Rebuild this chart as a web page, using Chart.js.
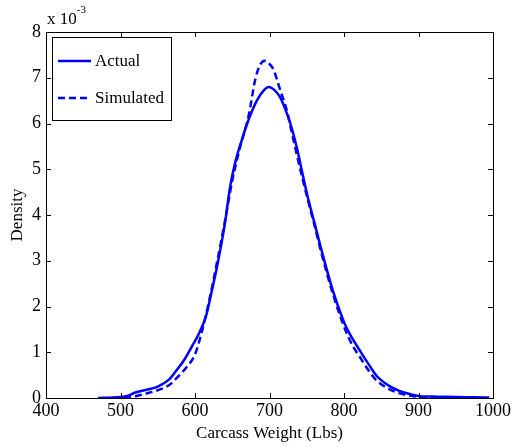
<!DOCTYPE html>
<html>
<head>
<meta charset="utf-8">
<script src="https://cdn.jsdelivr.net/npm/chart.js@4.4.0/dist/chart.umd.min.js"></script>
<style>
  html, body { margin: 0; padding: 0; background: #fff; }
  #wrap { width: 514px; height: 448px; }
</style>
</head>
<body>
<div id="wrap"><canvas id="densityChart" width="514" height="448"></canvas></div>
<script>
// carcass weight (lbs) and density (x 10^-3)
const actualX = [470, 490, 500, 510, 520, 535, 550, 565, 575, 585, 597, 605, 615, 622, 630, 640, 647, 654, 663, 669, 676, 683, 692, 699, 706, 714, 721, 728, 737, 745, 752, 760, 770, 785, 801, 812, 822, 833, 844, 860, 875, 890, 902, 925, 950, 975, 995];
const actualY = [0, 0.01, 0.02, 0.05, 0.12, 0.18, 0.25, 0.4, 0.6, 0.82, 1.16, 1.4, 1.8, 2.3, 2.9, 3.8, 4.6, 5.15, 5.65, 5.95, 6.25, 6.5, 6.72, 6.8, 6.74, 6.58, 6.32, 6.0, 5.45, 4.85, 4.35, 3.85, 3.22, 2.35, 1.62, 1.28, 1.02, 0.74, 0.48, 0.27, 0.15, 0.08, 0.04, 0.03, 0.02, 0.015, 0.01];

const simX = [490, 505, 520, 535, 550, 565, 575, 590, 600, 610, 620, 630, 640, 650, 660, 672, 681, 687, 694, 700, 705, 714, 723, 732, 745, 752, 760, 770, 785, 801, 812, 822, 833, 844, 860, 875, 890, 905, 930, 960];
const simY = [0, 0.01, 0.04, 0.1, 0.17, 0.28, 0.43, 0.7, 0.95, 1.5, 2.2, 3.0, 3.85, 4.75, 5.45, 6.17, 6.97, 7.27, 7.37, 7.3, 7.19, 6.75, 6.3, 5.65, 4.75, 4.3, 3.8, 3.15, 2.28, 1.52, 1.13, 0.88, 0.6, 0.38, 0.2, 0.1, 0.05, 0.02, 0.01, 0];

const xTicks = [400, 500, 600, 700, 800, 900, 1000];
const yTicks = [0, 1, 2, 3, 4, 5, 6, 7, 8];

const seriesNames = ['Actual', 'Simulated'];
const blue = '#0000ff';
const serif = '"Liberation Serif", "DejaVu Serif", serif';

function toPoints(xs, ys) {
    return xs.map((x, i) => ({ x: x, y: ys[i] }));
}

// MATLAB style box with inward ticks, exponent label and framed legend
const matlabFrame = {
    id: 'matlabFrame',
    afterDatasetsDraw(chart) {
        const { ctx, chartArea: a, scales } = chart;
        ctx.save();
        ctx.strokeStyle = '#000';
        ctx.lineWidth = 1;
        ctx.strokeRect(a.left + 0.5, a.top + 0.5, a.right - a.left, a.bottom - a.top);

        const tl = 5;
        ctx.beginPath();
        xTicks.forEach(v => {
            const px = Math.round(scales.x.getPixelForValue(v)) + 0.5;
            ctx.moveTo(px, a.bottom); ctx.lineTo(px, a.bottom - tl);
            ctx.moveTo(px, a.top); ctx.lineTo(px, a.top + tl);
        });
        yTicks.forEach(v => {
            const py = Math.round(scales.y.getPixelForValue(v)) + 0.5;
            ctx.moveTo(a.left, py); ctx.lineTo(a.left + tl, py);
            ctx.moveTo(a.right, py); ctx.lineTo(a.right - tl, py);
        });
        ctx.stroke();

        // exponent
        ctx.fillStyle = '#000';
        ctx.textBaseline = 'alphabetic';
        ctx.textAlign = 'left';
        ctx.font = '17px ' + serif;
        ctx.fillText('x 10', a.left + 1, a.top - 8);
        const w = ctx.measureText('x 10').width;
        ctx.font = '11px ' + serif;
        ctx.fillText('-3', a.left + 1 + w, a.top - 19);

        // legend
        const lx = 52, ly = 37, lw = 119, lh = 83;
        ctx.fillStyle = '#fff';
        ctx.fillRect(lx, ly, lw, lh);
        ctx.strokeRect(lx + 0.5, ly + 0.5, lw, lh);
        chart.data.datasets.forEach((ds, i) => {
            const y = ly + 24 + i * 37;
            ctx.strokeStyle = ds.borderColor;
            ctx.lineWidth = ds.borderWidth;
            ctx.setLineDash(ds.borderDash || []);
            ctx.beginPath();
            ctx.moveTo(lx + 6, y);
            ctx.lineTo(lx + 39, y);
            ctx.stroke();
            ctx.setLineDash([]);
            ctx.fillStyle = '#000';
            ctx.font = '17px ' + serif;
            ctx.textBaseline = 'middle';
            ctx.fillText(ds.label, lx + 43, y + 1);
        });
        ctx.restore();
    }
};

new Chart(document.getElementById('densityChart'), {
    type: 'line',
    data: {
        datasets: [{
            label: seriesNames[0],
            data: toPoints(actualX, actualY),
            borderColor: blue,
            borderWidth: 2.5,
            pointRadius: 0,
            cubicInterpolationMode: 'monotone',
            fill: false
        }, {
            label: seriesNames[1],
            data: toPoints(simX, simY),
            borderColor: blue,
            borderWidth: 2.5,
            borderDash: [7, 4],
            pointRadius: 0,
            cubicInterpolationMode: 'monotone',
            fill: false
        }]
    },
    options: {
        responsive: false,
        animation: false,
        layout: { padding: { top: 32, right: 21, left: 0, bottom: 0 } },
        plugins: {
            legend: { display: false },
            tooltip: { enabled: false }
        },
        scales: {
            x: {
                type: 'linear',
                min: 400,
                max: 1000,
                afterBuildTicks: s => { s.ticks = xTicks.map(v => ({ value: v })); },
                afterFit: s => { s.height = 50; },
                grid: { display: false, drawTicks: false },
                border: { display: false },
                ticks: { color: '#000', padding: 2, maxRotation: 0, callback: v => String(v), font: { family: serif, size: 18 } },
                title: { display: true, text: 'Carcass Weight (Lbs)', color: '#000', padding: { top: 0, bottom: 4 }, font: { family: serif, size: 17 } }
            },
            y: {
                min: 0,
                max: 8,
                afterBuildTicks: s => { s.ticks = yTicks.map(v => ({ value: v })); },
                afterFit: s => { s.width = 46; },
                grid: { display: false, drawTicks: false },
                border: { display: false },
                ticks: { color: '#000', padding: 5, callback: v => String(v), font: { family: serif, size: 18 } },
                title: { display: true, text: 'Density', color: '#000', padding: { top: 7, bottom: 0 }, font: { family: serif, size: 17 } }
            }
        }
    },
    plugins: [matlabFrame]
});
</script>
</body>
</html>
